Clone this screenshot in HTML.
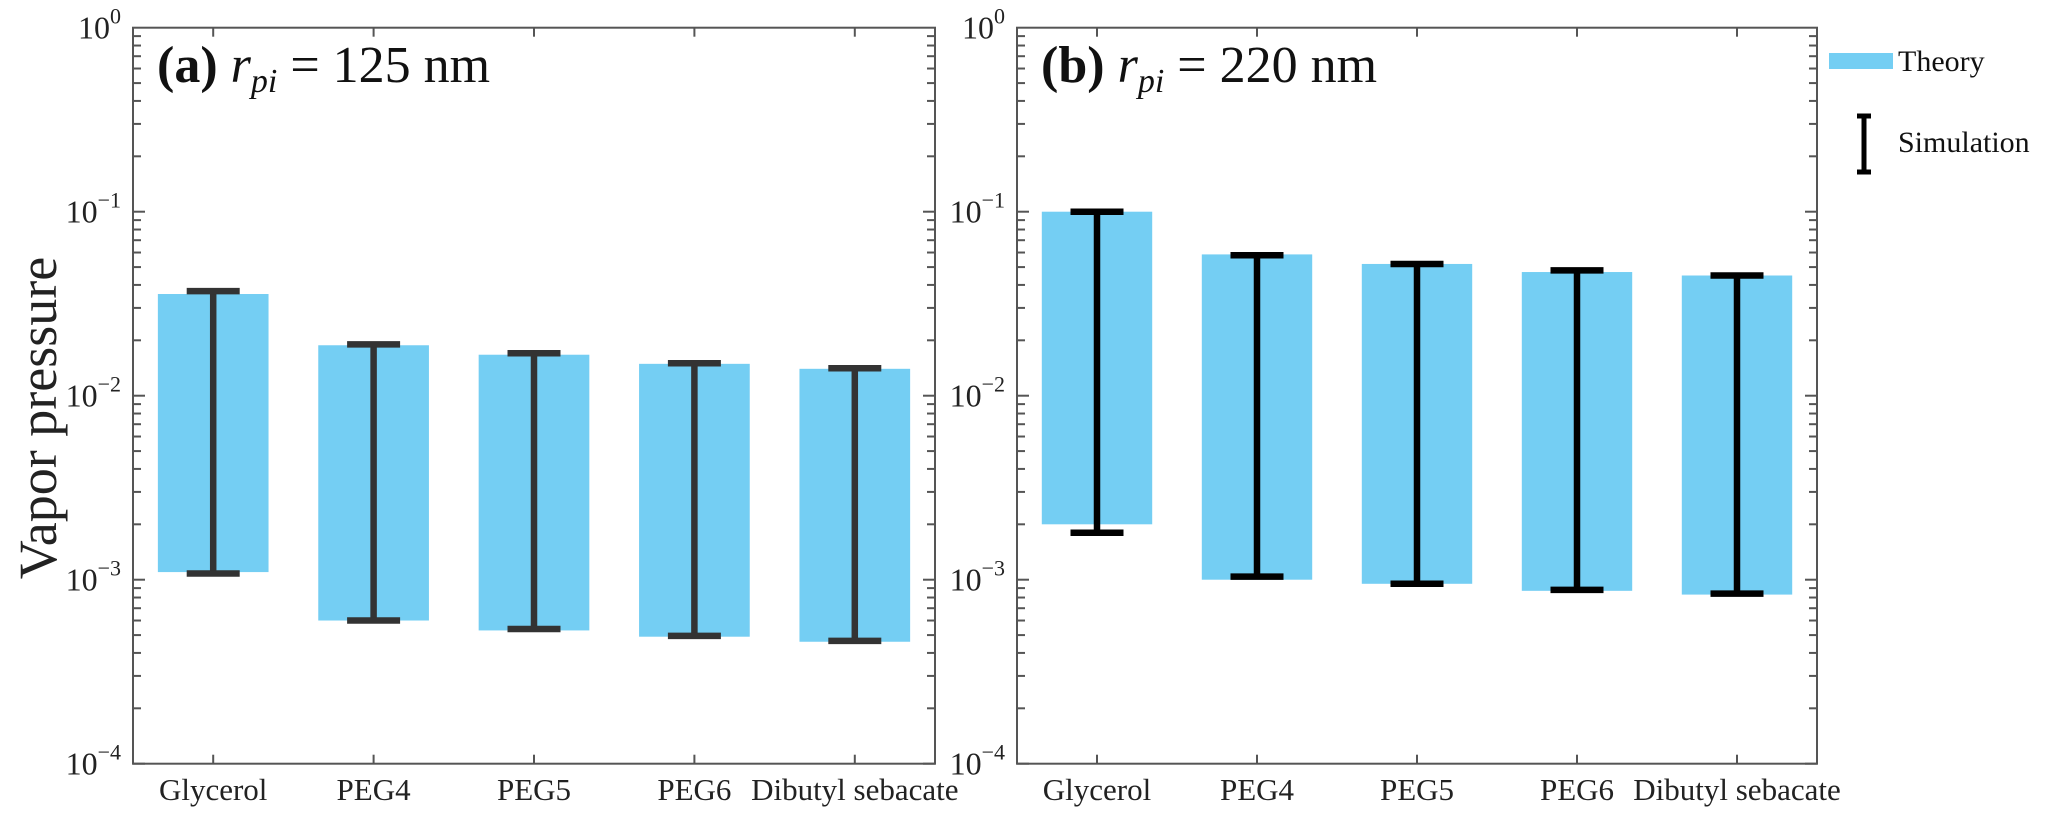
<!DOCTYPE html>
<html><head><meta charset="utf-8"><style>
html,body{margin:0;padding:0;background:#fff;}
svg text{font-family:"Liberation Serif","DejaVu Serif",serif;}
</style></head><body>
<svg id="chart" width="2067" height="816" viewBox="0 0 2067 816" font-family="Liberation Serif, DejaVu Serif, serif"></svg>
<script>
const categories = ["Glycerol","PEG4","PEG5","PEG6","Dibutyl sebacate"];
const theoryTopA = [0.0357,0.0188,0.0167,0.0149,0.0140];
const theoryBotA = [0.00110,0.00060,0.00053,0.00049,0.00046];
const simTopA = [0.0370,0.0190,0.0170,0.0150,0.0141];
const simBotA = [0.00108,0.00060,0.00054,0.000495,0.000465];
const theoryTopB = [0.100,0.0586,0.052,0.047,0.045];
const theoryBotB = [0.0020,0.00100,0.00095,0.00087,0.00083];
const simTopB = [0.100,0.058,0.052,0.048,0.045];
const simBotB = [0.0018,0.00104,0.00095,0.00088,0.00084];
const yTickExp = [0,-1,-2,-3,-4];

const NS="http://www.w3.org/2000/svg";
const svg=document.getElementById('chart');
function mk(tag,attrs,parent){const e=document.createElementNS(NS,tag);for(const k in attrs)e.setAttribute(k,attrs[k]);(parent||svg).appendChild(e);return e;}
const FF='Liberation Serif, DejaVu Serif, serif';

const TOP=27.7, BOT=763.7, DEC=(BOT-TOP)/4;
function yScale(v){return TOP+(-Math.log10(v))*DEC;}

function panel(id,left,right,tTop,tBot,sTop,sBot,errColor,letter,rval){
  const g=mk('g',{});
  
  
  const step=(right-left)/categories.length;
  function xScale(i){return left+step*(i+0.5);}
  const bw=step*0.69, cw=53;
  for(let i=0;i<categories.length;i++){
    const r=mk('rect',{x:xScale(i)-bw/2,y:yScale(tTop[i]),width:bw,height:yScale(tBot[i])-yScale(tTop[i]),fill:'#74cef3'},g);
    
    
  }
  for(let i=0;i<categories.length;i++){
    const eg=mk('g',{stroke:errColor,'stroke-width':6.5},g);
    
    
    const x=xScale(i),y1=yScale(sTop[i]),y2=yScale(sBot[i]);
    mk('line',{x1:x,x2:x,y1:y1,y2:y2},eg);
    mk('line',{x1:x-cw/2,x2:x+cw/2,y1:y1,y2:y1},eg);
    mk('line',{x1:x-cw/2,x2:x+cw/2,y1:y2,y2:y2},eg);
  }
  const ax=mk('rect',{x:left,y:TOP,width:right-left,height:BOT-TOP,fill:'none',stroke:'#555','stroke-width':2},g);
  
  
  for(let d=0;d<4;d++){
    for(let m=1;m<10;m++){
      const v=Math.pow(10,-(d+1))*m;
      const y=yScale(v);
      const len=m===1?12:8;
      mk('line',{x1:left,x2:left+len,y1:y,y2:y,stroke:'#555','stroke-width':2},g);
      mk('line',{x1:right,x2:right-len,y1:y,y2:y,stroke:'#555','stroke-width':2},g);
    }
  }
  yTickExp.forEach(e=>{
    const y=yScale(Math.pow(10,e));
    const t=mk('text',{x:left-12,y:y+11,'text-anchor':'end','font-size':32,fill:'#222','font-family':FF},g);
    
    
    t.textContent='10';
    const s=mk('tspan',{dy:-15,'font-size':22},t);
    s.textContent=e===0?'0':'\u2212'+(-e);
  });
  for(let i=0;i<categories.length;i++){
    const x=xScale(i);
    mk('line',{x1:x,x2:x,y1:BOT,y2:BOT-9,stroke:'#555','stroke-width':2},g);
    mk('line',{x1:x,x2:x,y1:TOP,y2:TOP+9,stroke:'#555','stroke-width':2},g);
    const t=mk('text',{x:x,y:800,'text-anchor':'middle','font-size':31,fill:'#222','font-family':FF},g);
    
    
    t.textContent=categories[i];
  }
  const tt=mk('text',{x:left+24,y:82,'font-size':52,fill:'#111','font-family':FF},g);
  
  
  const b=mk('tspan',{'font-weight':'bold'},tt); b.textContent='('+letter+') ';
  const r=mk('tspan',{'font-style':'italic'},tt); r.textContent='r';
  const sub=mk('tspan',{'font-style':'italic','font-size':34,dy:10},tt); sub.textContent='pi';
  const rest=mk('tspan',{dy:-10},tt); rest.textContent=' = '+rval+' nm';
}
panel('a',133,935,theoryTopA,theoryBotA,simTopA,simBotA,'#333','a','125');
panel('b',1017,1817,theoryTopB,theoryBotB,simTopB,simBotB,'#000','b','220');

const yl=mk('text',{x:0,y:0,'font-size':54,'text-anchor':'middle',fill:'#222','font-family':FF,transform:'translate(56,418) rotate(-90)'});


yl.textContent='Vapor pressure';

const lg=mk('g',{});


const lt=mk('g',{},lg);


mk('rect',{x:1829,y:53,width:64,height:16,fill:'#74cef3'},lt);
const t1=mk('text',{x:1898,y:71,'font-size':30,fill:'#111','font-family':FF},lt); t1.textContent='Theory';
const ls=mk('g',{},lg);


const eg=mk('g',{stroke:'#000','stroke-width':5},ls);
mk('line',{x1:1864,x2:1864,y1:116,y2:172},eg);
mk('line',{x1:1857,x2:1871,y1:116,y2:116},eg);
mk('line',{x1:1857,x2:1871,y1:172,y2:172},eg);
const t2=mk('text',{x:1898,y:152,'font-size':30,fill:'#111','font-family':FF},ls); t2.textContent='Simulation';
</script>
</body></html>
